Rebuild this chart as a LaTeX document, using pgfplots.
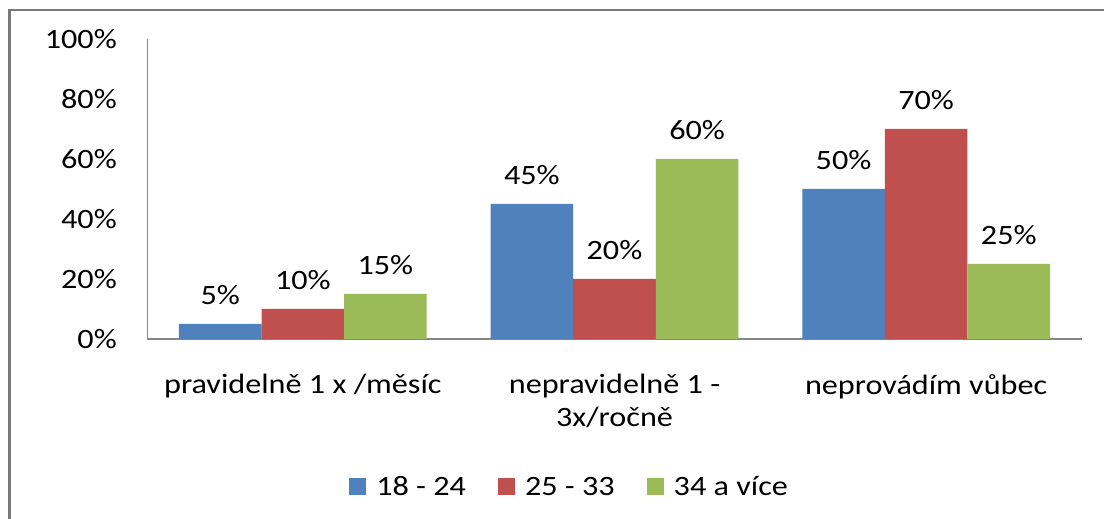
\documentclass[border=0pt]{standalone}
\usepackage{fontspec}
\setmainfont{Carlito}[FakeStretch=1.15]
\usepackage{pgfplots}
\pgfplotsset{compat=1.18}
\definecolor{cblue}{HTML}{4F81BD}
\definecolor{cred}{HTML}{C0504D}
\definecolor{cgreen}{HTML}{9BBB59}
\definecolor{axgray}{HTML}{868686}
\pgfplotsset{sq/.style={legend image code/.code={\fill[##1] (0pt,-8.5pt) rectangle (17pt,8.5pt);}}}
\begin{document}
\begin{tikzpicture}
\useasboundingbox (0,0) rectangle (1104pt,519pt);
\fill[white] (0,0) rectangle (1104pt,519pt);
\draw[axgray!90!black, line width=2.5pt] (9.5pt,0) -- (9.5pt,509pt) -- (1104pt,509pt);
\begin{axis}[
  at={(147pt,180pt)}, anchor=south west,
  scale only axis, width=935pt, height=300pt,
  xmin=-0.5, xmax=2.5, ymin=0, ymax=100,
  axis x line*=bottom, axis y line*=left,
  x axis line style={draw=axgray, line width=2pt, -},
  y axis line style={draw=axgray, line width=1pt, -},
  major tick length=0pt, tick style={draw=none},
  xtick={0,1,2},
  xticklabels={{pravidelně 1 x /měsíc},{nepravidelně 1 -\\3x/ročně},{neprovádím vůbec}},
  xticklabel style={anchor=north, inner sep=0pt, yshift=-35pt, align=center, font=\fontsize{28}{33}\selectfont},
  ytick={0,20,40,60,80,100},
  yticklabels={0\%,20\%,40\%,60\%,80\%,100\%},
  yticklabel style={anchor=east, inner sep=0pt, xshift=-30pt, font=\fontsize{28}{33}\selectfont},
  ybar=0pt, bar width=0.265,
  /pgf/number format/assume math mode=true,
  nodes near coords={\pgfmathprintnumber{\pgfplotspointmeta}\%},
  every node near coord/.append style={anchor=base, inner sep=0pt, yshift=19pt, font=\fontsize{28}{33}\selectfont, text=black},
  legend columns=3,
  legend style={at={(0.452,-0.493)}, anchor=center, draw=none, fill=none,
    font=\fontsize{28}{33}\selectfont,
    /tikz/every odd column/.append style={column sep=8pt},
    /tikz/every even column/.append style={column sep=30pt}},
  legend cell align=left,
]
\addplot[fill=cblue, draw=none, bar shift=-0.265, sq] coordinates {(0,5) (1,45) (2,50)};
\addplot[fill=cred, draw=none, bar shift=0, sq] coordinates {(0,10) (1,20) (2,70)};
\addplot[fill=cgreen, draw=none, bar shift=0.265, sq] coordinates {(0,15) (1,60) (2,25)};
\legend{18 - 24, 25 - 33, 34 a více}
\end{axis}
\end{tikzpicture}
\end{document}
